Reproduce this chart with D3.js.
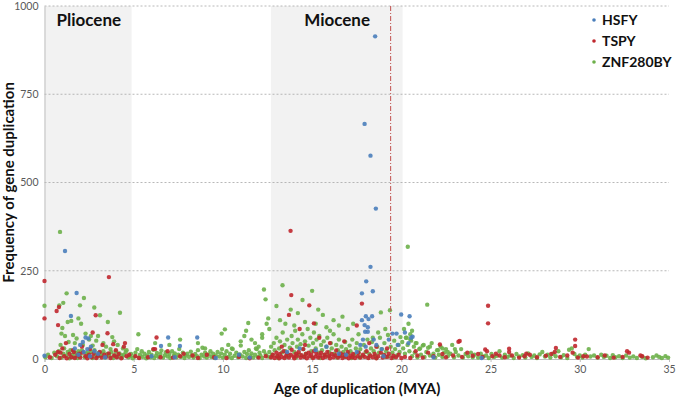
<!DOCTYPE html>
<html>
<head>
<meta charset="utf-8">
<script src="https://cdn.jsdelivr.net/npm/d3@7"></script>
<style>
  body { margin: 0; background: #fff; }
  text { font-family: Lato, "Open Sans", sans-serif; }
</style>
</head>
<body>
<div id="chart"></div>
<script>
// series names and colours
var seriesNames = ["HSFY", "TSPY", "ZNF280BY"];
var xTicks = [0, 5, 10, 15, 20, 25, 30, 35];
var yTicks = [0, 250, 500, 750, 1000];
var epochs = [["Pliocene", 0, 4.88], ["Miocene", 12.69, 20.07]];
var markerAge = 19.4;

// [age (MYA), frequency]
var hsfy = [
  [18.53,914],[17.94,666],[18.27,576],[18.57,426],[18.27,261],[18.03,220],[18.4,192],[17.79,186],
  [18.01,121],[18.36,121],[17.79,110],[18.16,113],[17.94,96],[18.12,90],[17.97,77],[18.12,77],
  [19.99,126],[20.46,121],[19.5,72],[19.73,72],[20.2,75],[20.63,63],[20.55,60],[20.4,45],[19.8,40],
  [17.7,40],[18.0,35],[17.5,20],[18.6,40],[18.9,28],[19.3,55],[18.45,55],[17.85,55],[16.5,15],
  [15.2,25],[14.3,30],[13.6,20],[15.8,35],[16.9,12],[19.0,8],
  [0,9],[1.15,306],[1.8,187],[1.48,122],[2.3,61],[2.45,58],[2.15,48],[2.0,40],[2.6,35],[2.4,28],
  [1.7,30],[2.8,22],[3.0,15],[1.9,12],[2.55,8],[3.4,5],[2.2,20],
  [6.93,61],[7.59,37],[6.53,37],[8.56,61],[6.0,8],[7.3,5],[9.6,3],[11.5,4],[10.9,12],[21.8,5],[24.5,3]
];

var tspy = [
  [0,221],[0,115],[0.68,136],[0.81,147],[0.76,96],[3.61,232],[2.87,124],[3.53,73],[4.51,45],[4.45,35],
  [2.7,75],[1.0,30],[1.2,45],[0.75,20],[2.1,35],[2.55,28],[3.25,40],[3.85,42],[4.0,25],[1.65,20],[1.95,15],
  [6.28,61],[6.1,28],[6.2,28],[6.9,22],[5.1,8],[7.8,15],[8.3,10],[9.1,12],[5.8,5],
  [13.79,363],[13.83,181],[14.84,152],[15.1,101],[17.79,157],[13.7,125],[14.3,85],[15.4,60],[16.0,45],
  [17.5,95],[16.8,50],[18.2,45],[18.6,35],[19.2,30],[14.6,40],[13.3,35],
  [20.8,22],[21.5,18],[22.16,41],[23.2,49],[23.27,51],[24.86,151],[24.86,101],[24.7,27],[24.8,22],
  [29.74,55],[29.74,37],[26.04,29],[26.04,20],[28.66,31],[28.6,20],[32.76,18],[32.65,22],[33.5,8],
  [27.0,15],[25.5,10],[29.6,18],[30.2,8],
  [0.3,5],[0.6,12],[0.85,3],[0.9,18],[1.1,8],[1.25,2],[1.4,14],[1.5,5],[1.6,25],[1.7,3],[1.85,10],
  [2.0,4],[2.15,18],[2.3,8],[2.4,2],[2.5,12],[2.65,5],[2.75,15],[2.9,3],[3.0,9],[3.1,20],[3.2,4],
  [3.35,12],[3.45,6],[3.6,16],[3.7,3],[3.9,10],[4.05,5],[4.15,14],[4.3,2],[4.6,8],[4.75,12],
  [5.3,3],[6.5,5],[7.2,4],[7.6,8],[8.6,3],[9.5,5],[10.2,3],[10.9,6],[11.5,2],[12.0,4],[12.4,8],
  [12.7,5],[12.8,12],[12.9,3],[13.0,18],[13.05,8],[13.15,2],[13.2,14],[13.3,6],[13.4,22],[13.45,3],
  [13.55,10],[13.6,16],[13.7,4],[13.8,12],[13.85,26],[13.95,7],[14.0,2],[14.1,15],[14.15,9],[14.25,20],
  [14.35,4],[14.4,11],[14.5,28],[14.55,6],[14.65,14],[14.7,2],[14.8,18],[14.85,8],[14.95,12],[15.05,3],
  [15.1,22],[15.2,7],[15.25,15],[15.35,4],[15.45,10],[15.5,18],[15.6,3],[15.7,12],[15.75,6],[15.85,20],
  [15.95,9],[16.0,2],[16.1,14],[16.2,5],[16.3,11],[16.35,24],[16.45,4],[16.55,9],[16.6,16],[16.7,3],
  [16.8,12],[16.9,6],[17.0,20],[17.05,2],[17.15,10],[17.25,5],[17.3,14],[17.4,3],[17.55,8],[17.6,18],
  [17.7,4],[17.85,12],[17.95,6],[18.05,22],[18.15,3],[18.25,10],[18.4,5],[18.5,14],[18.6,2],[18.7,8],
  [18.85,18],[18.95,4],[19.05,11],[19.2,6],[19.3,15],[19.45,3],[19.55,9],[19.7,5],[19.85,12],[20.0,3],
  [20.2,6],[20.5,3],[20.9,10],[21.2,4],[21.8,8],[22.3,14],[22.5,5],[22.9,10],[23.4,6],[23.7,18],
  [24.0,9],[24.3,14],[24.55,6],[25.1,8],[25.3,15],[25.8,5],[26.2,10],[26.6,4],[26.9,8],[27.2,12],
  [27.6,5],[28.1,9],[28.4,14],[28.9,6],[29.3,10],[29.9,4],[30.4,7],[31.0,5],[31.4,10],[31.9,4],
  [32.4,6],[33.4,10],[33.8,4]
];

var znf280by = [
  [0.87,360],[0,151],[0.83,152],[1.24,186],[1.05,159],[1.99,152],[2.21,173],[2.79,146],[3.11,124],
  [4.23,131],[3.55,105],[1.9,115],[2.05,100],[1.3,105],[1.5,108],[1.0,88],[0.95,72],[1.15,65],[1.6,68],
  [1.8,58],[2.3,72],[2.5,55],[2.6,65],[2.9,52],[3.0,65],[3.3,45],[3.8,62],[3.9,50],[4.1,40],[4.4,30],
  [4.6,25],[1.35,48],[1.7,45],[2.15,40],[2.7,38],[3.45,35],[3.7,28],[4.0,22],[0.9,40],[1.1,30],
  [1.45,25],[1.9,22],[2.4,18],[2.8,25],[3.2,15],[3.6,12],[4.3,10],[4.8,8],
  [0.05,5],[0.2,12],[0.4,3],[0.55,18],[0.7,8],[0.8,22],[0.95,4],[1.05,15],[1.2,9],[1.3,20],[1.4,2],
  [1.55,12],[1.65,6],[1.75,17],[1.85,3],[2.0,10],[2.1,24],[2.25,5],[2.35,14],[2.5,8],[2.6,20],[2.7,3],
  [2.85,12],[2.95,6],[3.05,18],[3.15,9],[3.3,22],[3.4,4],[3.5,14],[3.65,7],[3.75,19],[3.85,3],[3.95,11],
  [4.1,6],[4.2,16],[4.35,4],[4.45,12],[4.55,20],[4.7,5],[4.85,14],[4.95,2],
  [5.26,70],[6.2,45],[7.0,40],[7.6,55],[8.6,45],[9.0,30],[9.93,72],[10.11,84],
  [5.05,8],[5.1,18],[5.2,28],[5.3,4],[5.35,12],[5.45,22],[5.5,6],[5.6,15],[5.7,2],[5.75,10],[5.85,20],
  [5.95,5],[6.0,12],[6.1,26],[6.15,3],[6.25,9],[6.3,17],[6.4,6],[6.5,14],[6.55,24],[6.65,4],[6.75,11],
  [6.8,19],[6.9,7],[7.0,14],[7.05,3],[7.15,22],[7.25,9],[7.3,16],[7.4,5],[7.5,12],[7.55,28],[7.65,6],
  [7.75,18],[7.85,3],[7.9,10],[8.0,15],[8.1,6],[8.2,21],[8.25,11],[8.35,4],[8.45,14],[8.55,8],[8.6,25],
  [8.7,3],[8.8,12],[8.85,32],[8.95,7],[9.0,18],[9.1,4],[9.2,13],[9.3,22],[9.35,6],[9.45,15],[9.55,3],
  [9.6,10],[9.7,20],[9.8,7],[9.9,16],[9.95,28],
  [10.3,40],[10.5,30],[11.0,50],[11.2,65],[11.42,102],[11.3,80],[11.6,55],[11.8,45],[12.0,35],[12.2,60],
  [12.3,197],[12.39,169],[12.54,115],[12.45,100],[12.6,85],[12.2,70],[11.9,28],
  [10.0,4],[10.1,12],[10.2,22],[10.3,6],[10.4,15],[10.5,3],[10.55,28],[10.65,9],[10.75,18],[10.85,5],
  [10.95,13],[11.0,38],[11.1,7],[11.2,20],[11.3,3],[11.35,14],[11.45,25],[11.55,8],[11.6,16],[11.7,4],
  [11.8,12],[11.85,30],[11.95,6],[12.05,18],[12.1,10],[12.2,3],[12.3,22],[12.4,13],[12.5,7],
  [13.34,209],[15.0,193],[14.46,167],[13.0,150],[15.34,140],[13.8,140],[14.2,130],[15.6,125],[16.2,110],
  [16.7,120],[13.2,110],[13.5,100],[14.0,95],[14.6,105],[15.2,100],[15.8,90],[16.0,80],[16.5,95],
  [17.0,85],[17.3,100],[17.6,70],[18.85,132],[19.36,138],[19.1,85],[18.7,75],[18.4,60],
  [12.6,20],[12.7,35],[12.75,12],[12.85,45],[12.9,25],[13.0,60],[13.05,8],[13.15,30],[13.2,50],[13.3,18],
  [13.35,75],[13.45,40],[13.5,22],[13.6,55],[13.7,10],[13.75,32],[13.85,65],[13.9,45],[14.0,20],[14.05,80],
  [14.15,35],[14.2,55],[14.3,12],[14.35,42],[14.45,70],[14.5,28],[14.6,50],[14.65,15],[14.75,85],[14.8,38],
  [14.9,60],[14.95,22],[15.05,45],[15.1,75],[15.2,30],[15.25,55],[15.35,18],[15.4,65],[15.5,40],[15.55,25],
  [15.65,50],[15.7,12],[15.8,35],[15.85,60],[15.95,20],[16.05,45],[16.1,30],[16.2,70],[16.25,15],[16.35,40],
  [16.45,25],[16.5,55],[16.6,10],[16.65,35],[16.75,20],[16.85,48],[16.9,28],[17.0,15],[17.1,38],[17.15,22],
  [17.25,55],[17.35,12],[17.45,30],[17.5,45],[17.6,18],[17.7,28],[17.8,8],[17.9,40],[18.0,20],[18.1,55],
  [18.2,14],[18.3,30],[18.35,48],[18.45,22],[18.55,10],[18.65,35],[18.75,18],[18.8,60],[18.9,28],[19.0,12],
  [19.05,45],[19.15,22],[19.25,68],[19.3,8],[19.4,35],[19.5,18],[19.6,52],[19.65,28],[19.75,10],[19.85,40],
  [19.9,20],[19.95,62],
  [12.65,5],[13.1,3],[13.55,6],[14.1,4],[14.55,7],[15.0,5],[15.45,3],[15.9,8],[16.4,4],[16.8,6],[17.2,3],
  [17.65,5],[18.15,4],[18.6,3],[19.1,6],[19.55,4],
  [20.36,318],[21.45,154],[20.4,100],[20.6,80],[20.25,60],[20.5,55],[20.8,45],[21.05,30],[21.25,40],
  [21.6,35],[22.05,25],[22.3,30],[22.6,20],[23.0,28],
  [20.05,48],[20.1,30],[20.15,85],[20.2,15],[20.3,60],[20.35,40],[20.45,22],[20.5,70],[20.55,52],[20.6,8],
  [20.7,35],[20.75,18],[20.85,45],[20.9,5],[21.0,28],[21.1,12],[21.2,38],[21.3,6],[21.4,20],[21.5,32],
  [21.6,10],[21.7,45],[21.8,15],[21.9,4],[22.0,25],[22.1,12],[22.2,35],[22.3,6],[22.4,18],[22.5,28],
  [22.6,8],[22.75,15],[22.85,40],[22.95,5],[23.05,20],[23.2,10],[23.35,28],[23.45,4],[23.6,14],[23.75,8],
  [23.9,18],[24.0,5],
  [24.1,12],[24.3,4],[24.45,15],[24.6,7],[24.75,10],[24.9,3],[25.05,14],[25.2,6],[25.35,9],[25.5,22],
  [25.65,4],[25.8,12],[25.95,6],[26.1,10],[26.3,3],[26.45,14],[26.6,7],[26.8,11],[26.95,4],[27.1,16],
  [27.3,6],[27.45,10],[27.6,3],[27.75,13],[27.9,20],[28.05,7],[28.2,12],[28.35,4],[28.5,15],[28.65,8],
  [28.8,22],[28.95,5],[29.1,11],[29.3,3],[29.4,26],[29.55,30],[29.7,14],[29.85,6],[30.0,10],[30.15,4],
  [30.3,12],[30.5,28],[30.6,7],[30.8,10],[31.0,4],[31.2,12],[31.35,6],[31.5,9],[31.7,3],[31.85,11],
  [32.0,5],[32.2,8],[32.4,3],[32.6,10],[32.8,4],[33.0,7],[33.2,3],[33.5,6],[33.7,2],[34.1,5],[34.3,10],
  [34.45,6],[34.6,3],[34.8,8],[34.95,4]
];

var colors = { "HSFY": "#4a7ebb", "TSPY": "#c0272d", "ZNF280BY": "#6db04a" };

const width = 677, height = 398;
const margin = {top: 6, right: 8, bottom: 39, left: 44.5};
const plotW = width - margin.left - margin.right,
      plotH = height - margin.top - margin.bottom;

const svg = d3.select("#chart")
    .append("svg")
    .attr("width", width)
    .attr("height", height);

const g = svg.append("g")
    .attr("transform", `translate(${margin.left}, ${margin.top})`);

var x = d3.scaleLinear().domain([0, 35]).range([0, plotW]);
var y = d3.scaleLinear().domain([0, 1000]).range([plotH, 0]);

// shaded epochs
g.selectAll(".epoch")
    .data(epochs)
    .enter().append("rect")
    .attr("x", d => x(d[1]))
    .attr("width", d => x(d[2]) - x(d[1]))
    .attr("y", 0)
    .attr("height", plotH)
    .attr("fill", "#f2f2f2");

// gridlines
g.selectAll(".grid")
    .data(yTicks.filter(d => d > 0))
    .enter().append("line")
    .attr("x1", 0).attr("x2", plotW)
    .attr("y1", d => y(d)).attr("y2", d => y(d))
    .attr("stroke", "#a6a6a6")
    .attr("stroke-width", 0.8)
    .attr("stroke-dasharray", "2,2");

// axes
var yAxis = g.append("g")
    .call(d3.axisLeft(y).tickValues(yTicks).tickFormat(d3.format("d")).tickSize(0).tickPadding(6));
yAxis.select(".domain").attr("stroke", "#bfbfbf");
yAxis.selectAll("text").attr("fill", "#595959").style("font-size", "10.5px");

var xAxis = g.append("g")
    .attr("transform", "translate(0," + plotH + ")")
    .call(d3.axisBottom(x).tickValues(xTicks).tickSize(3).tickPadding(4));
xAxis.select(".domain").attr("stroke", "#bfbfbf");
xAxis.selectAll("line").attr("stroke", "#bfbfbf");
xAxis.selectAll("text").attr("fill", "#595959").style("font-size", "10.5px");

// epoch labels
g.append("text")
    .attr("x", x(0) + 12).attr("y", 20)
    .attr("font-weight", "bold").attr("font-size", "17px").attr("fill", "#111")
    .text("Pliocene");
g.append("text")
    .attr("x", x(16.4)).attr("y", 20)
    .attr("text-anchor", "middle")
    .attr("font-weight", "bold").attr("font-size", "17px").attr("fill", "#111")
    .text("Miocene");

// points: green first, then red, then blue on top
var layers = [["ZNF280BY", znf280by], ["TSPY", tspy], ["HSFY", hsfy]];
layers.forEach(function (l) {
    g.append("g").selectAll("circle")
        .data(l[1])
        .enter().append("circle")
        .attr("cx", d => x(d[0]))
        .attr("cy", d => y(d[1]))
        .attr("r", 2.2)
        .attr("fill", colors[l[0]])
        .attr("fill-opacity", 0.9);
});

// dash-dot marker line
g.append("line")
    .attr("x1", x(markerAge)).attr("x2", x(markerAge))
    .attr("y1", 0).attr("y2", plotH)
    .attr("stroke", "#c0504d")
    .attr("stroke-width", 1)
    .attr("stroke-dasharray", "5,2,1,2");

// legend
var legend = svg.append("g").attr("transform", "translate(594, 20)");
seriesNames.forEach(function (name, i) {
    var row = legend.append("g").attr("transform", "translate(0," + (i * 21) + ")");
    row.append("circle").attr("r", 1.8).attr("fill", colors[name]);
    row.append("text")
        .attr("x", 8).attr("dy", "0.35em")
        .attr("font-weight", "bold").attr("font-size", "14px").attr("fill", "#111")
        .text(name);
});

// axis titles
svg.append("text")
    .attr("transform", "translate(14," + (margin.top + plotH / 2) + ") rotate(-90)")
    .attr("text-anchor", "middle")
    .attr("font-weight", "bold").attr("font-size", "15px").attr("fill", "#111")
    .text("Frequency of gene duplication");

svg.append("text")
    .attr("x", 357).attr("y", 394)
    .attr("text-anchor", "middle")
    .attr("font-weight", "bold").attr("font-size", "15px").attr("fill", "#111")
    .text("Age of duplication (MYA)");
</script>
</body>
</html>
